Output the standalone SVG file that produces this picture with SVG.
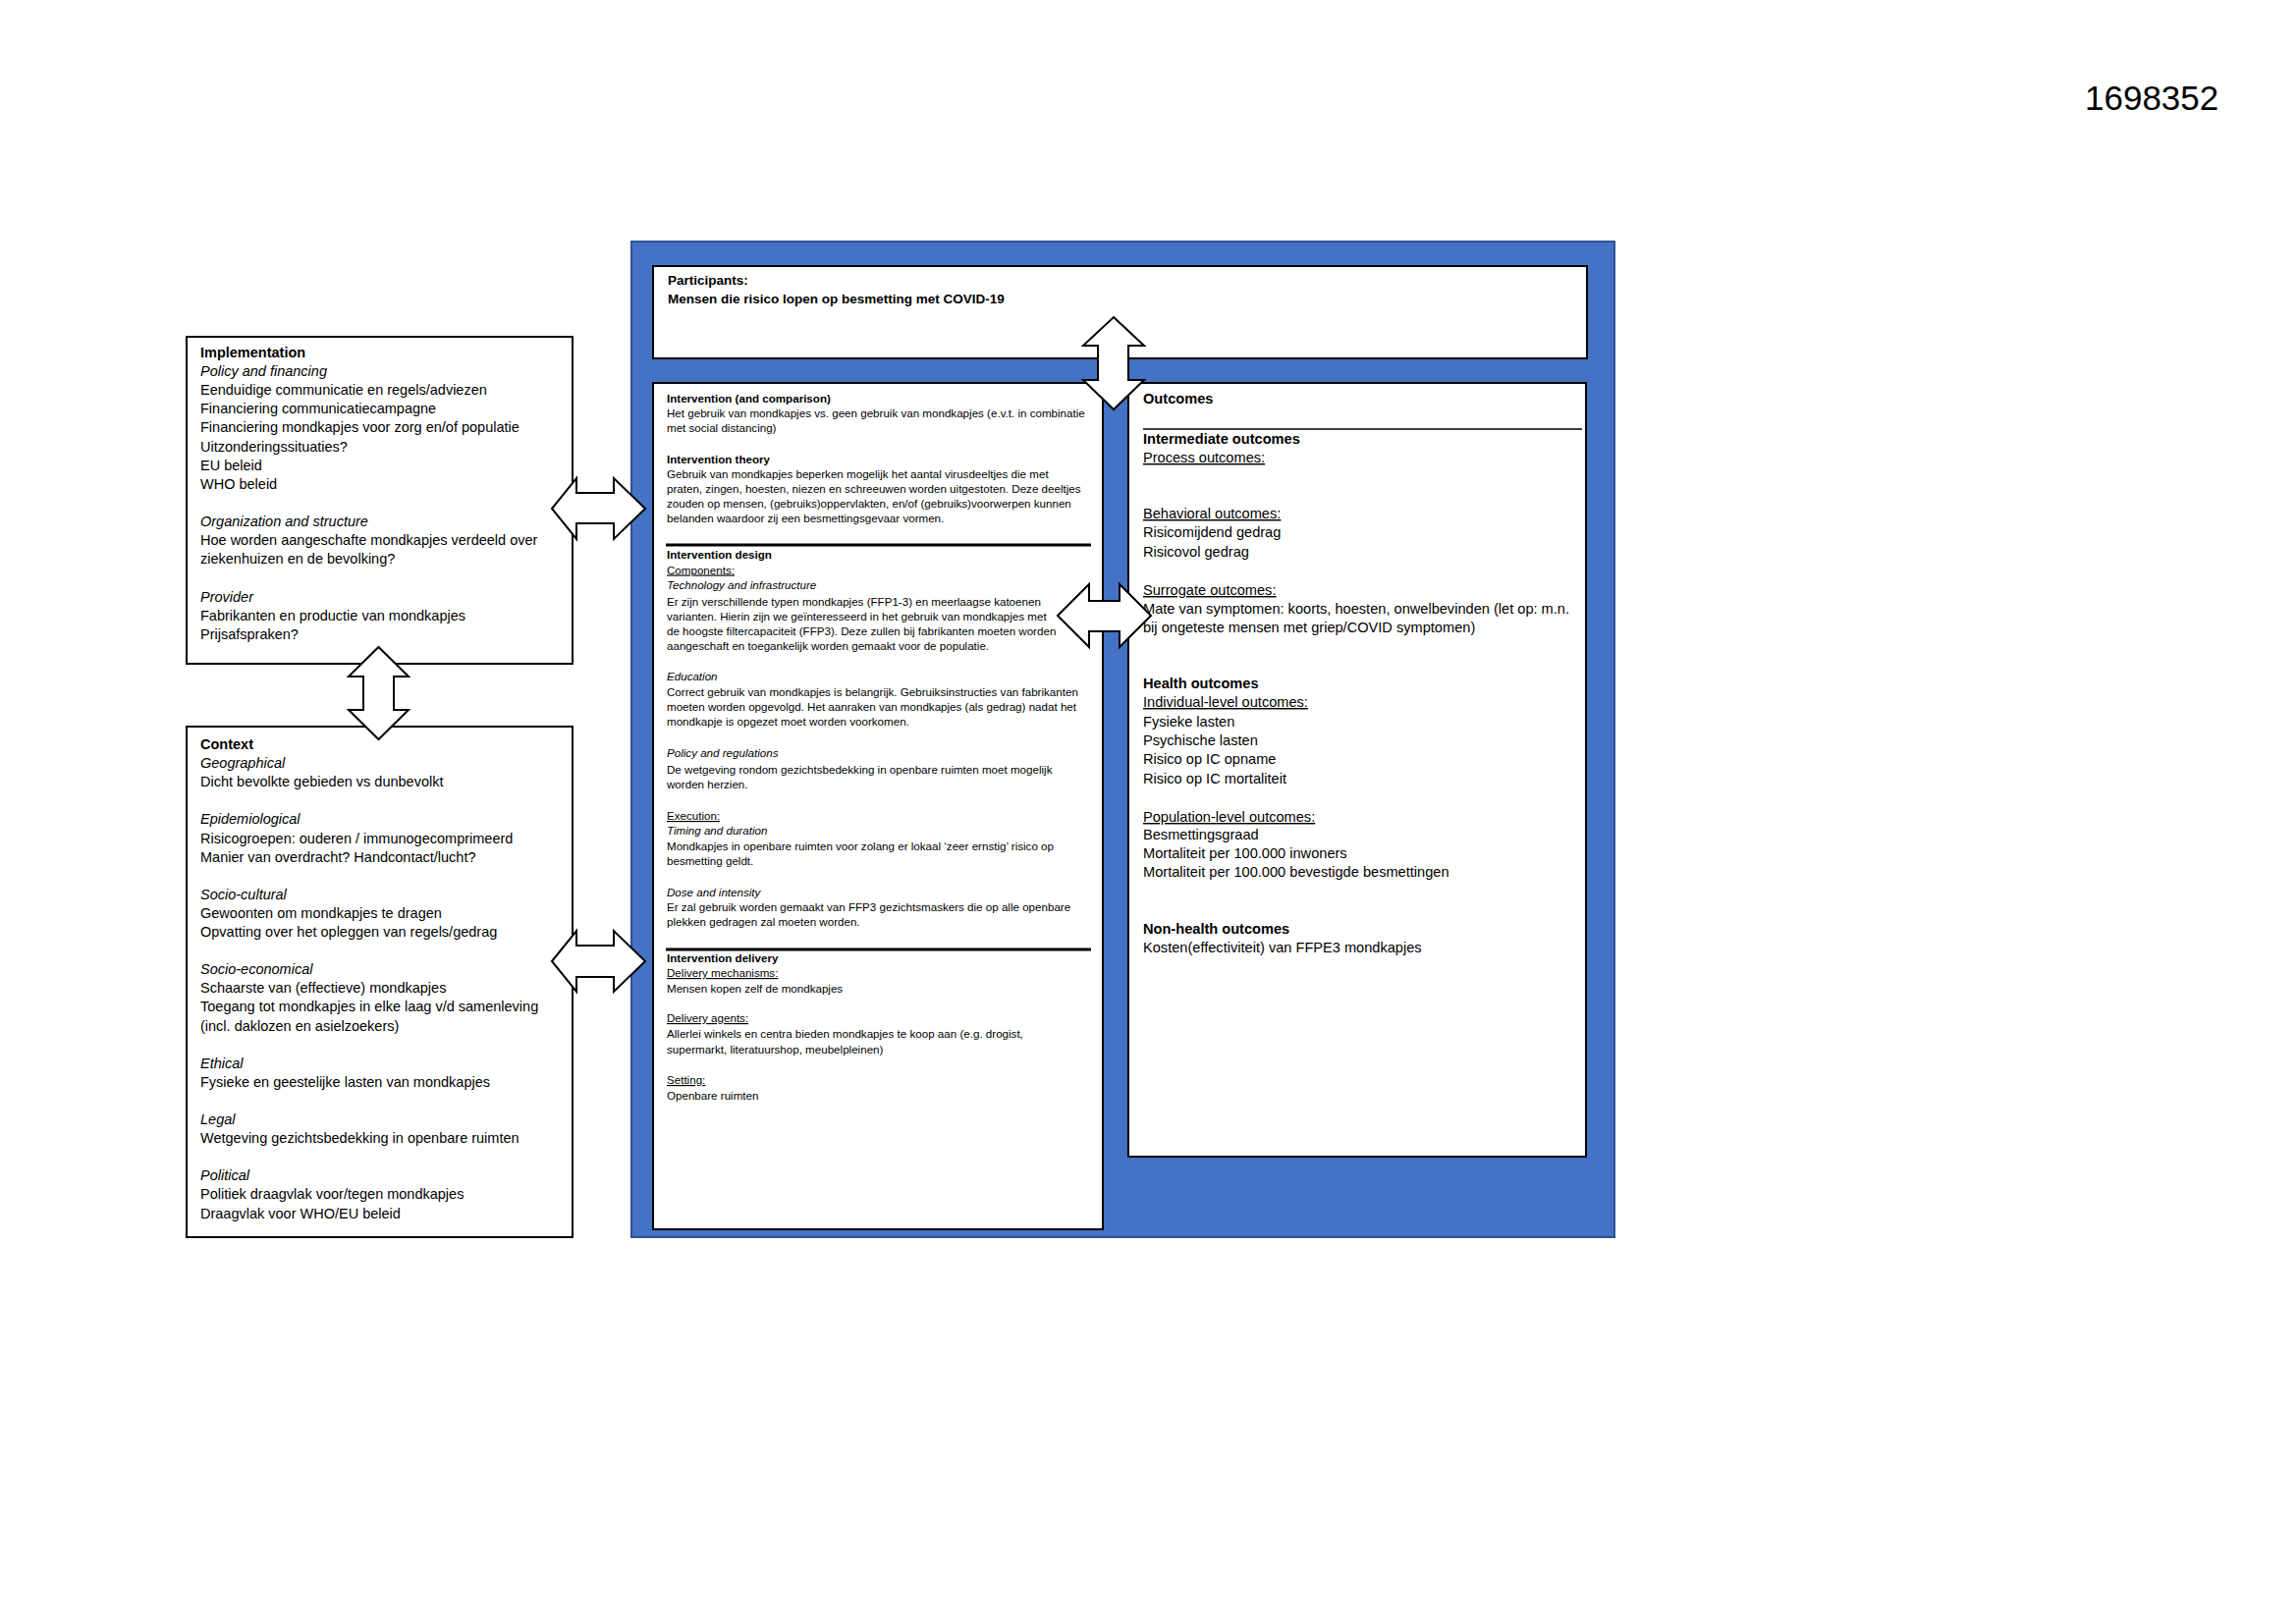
<svg xmlns="http://www.w3.org/2000/svg" width="2338" height="1654" viewBox="0 0 2338 1654">
<style>
text{font-family:"Liberation Sans",Arial,sans-serif;fill:#000}
.t{font-size:14.5px}
.o{font-size:14.6px}
.s{font-size:11.6px}
.p{font-size:13.5px;font-weight:bold}
.b{font-weight:bold}
.i{font-style:italic}
.u{text-decoration:underline}
.box{fill:#fff;stroke:#000;stroke-width:2}
.arrow{fill:#fff;stroke:#000;stroke-width:2;stroke-linejoin:miter}
.rule{stroke:#000;stroke-width:3}
</style>
<rect width="2338" height="1654" fill="#fff"/>
<g id="doc-number"><text x="2123" y="112" style="font-size:35px">1698352</text></g>

<g id="pico-frame"><rect x="643" y="246" width="1001" height="1014" fill="#4472C4" stroke="#2F528F" stroke-width="2"/></g>

<g id="implementation">
<rect class="box" x="190" y="343" width="393" height="333"/>
<g class="t">
<text x="204" y="364" class="b">Implementation</text>
<text x="204" y="383" class="i">Policy and financing</text>
<text x="204" y="402">Eenduidige communicatie en regels/adviezen</text>
<text x="204" y="421">Financiering communicatiecampagne</text>
<text x="204" y="440">Financiering mondkapjes voor zorg en/of populatie</text>
<text x="204" y="459.5">Uitzonderingssituaties?</text>
<text x="204" y="478.6">EU beleid</text>
<text x="204" y="497.7">WHO beleid</text>
<text x="204" y="536" class="i">Organization and structure</text>
<text x="204" y="555">Hoe worden aangeschafte mondkapjes verdeeld over</text>
<text x="204" y="574">ziekenhuizen en de bevolking?</text>
<text x="204" y="612.5" class="i">Provider</text>
<text x="204" y="632">Fabrikanten en productie van mondkapjes</text>
<text x="204" y="651">Prijsafspraken?</text>
</g>
</g>

<g id="context">
<rect class="box" x="190" y="740" width="393" height="520"/>
<g class="t">
<text x="204" y="763" class="b">Context</text>
<text x="204" y="782.1" class="i">Geographical</text>
<text x="204" y="801.2">Dicht bevolkte gebieden vs dunbevolkt</text>
<text x="204" y="839.4" class="i">Epidemiological</text>
<text x="204" y="858.5">Risicogroepen: ouderen / immunogecomprimeerd</text>
<text x="204" y="877.6">Manier van overdracht? Handcontact/lucht?</text>
<text x="204" y="915.8" class="i">Socio-cultural</text>
<text x="204" y="934.9">Gewoonten om mondkapjes te dragen</text>
<text x="204" y="954">Opvatting over het opleggen van regels/gedrag</text>
<text x="204" y="992.2" class="i">Socio-economical</text>
<text x="204" y="1011.3">Schaarste van (effectieve) mondkapjes</text>
<text x="204" y="1030.4">Toegang tot mondkapjes in elke laag v/d samenleving</text>
<text x="204" y="1049.5">(incl. daklozen en asielzoekers)</text>
<text x="204" y="1087.7" class="i">Ethical</text>
<text x="204" y="1106.8">Fysieke en geestelijke lasten van mondkapjes</text>
<text x="204" y="1145" class="i">Legal</text>
<text x="204" y="1164.1">Wetgeving gezichtsbedekking in openbare ruimten</text>
<text x="204" y="1202.3" class="i">Political</text>
<text x="204" y="1221.4">Politiek draagvlak voor/tegen mondkapjes</text>
<text x="204" y="1240.5">Draagvlak voor WHO/EU beleid</text>
</g>
</g>

<g id="participants">
<rect class="box" x="665" y="271" width="951" height="94"/>
<text x="680" y="290" class="p">Participants:</text>
<text x="680" y="309" class="p">Mensen die risico lopen op besmetting met COVID-19</text>
</g>

<g id="intervention">
<rect class="box" x="665" y="390" width="458" height="862"/>
<g class="s">
<text x="679" y="409.5" class="b">Intervention (and comparison)</text>
<text x="679" y="424.5">Het gebruik van mondkapjes vs. geen gebruik van mondkapjes (e.v.t. in combinatie</text>
<text x="679" y="439.5">met social distancing)</text>
<text x="679" y="471.5" class="b">Intervention theory</text>
<text x="679" y="486.5">Gebruik van mondkapjes beperken mogelijk het aantal virusdeeltjes die met</text>
<text x="679" y="501.5">praten, zingen, hoesten, niezen en schreeuwen worden uitgestoten. Deze deeltjes</text>
<text x="679" y="516.5">zouden op mensen, (gebruiks)oppervlakten, en/of (gebruiks)voorwerpen kunnen</text>
<text x="679" y="531.5">belanden waardoor zij een besmettingsgevaar vormen.</text>
<line class="rule" x1="678" y1="555" x2="1111" y2="555"/>
<text x="679" y="568.5" class="b">Intervention design</text>
<text x="679" y="584.5" class="u">Components:</text>
<text x="679" y="599.5" class="i">Technology and infrastructure</text>
<text x="679" y="616.5">Er zijn verschillende typen mondkapjes (FFP1-3) en meerlaagse katoenen</text>
<text x="679" y="631.5">varianten. Hierin zijn we geïnteresseerd in het gebruik van mondkapjes met</text>
<text x="679" y="646.5">de hoogste filtercapaciteit (FFP3). Deze zullen bij fabrikanten moeten worden</text>
<text x="679" y="661.5">aangeschaft en toegankelijk worden gemaakt voor de populatie.</text>
<text x="679" y="692.5" class="i">Education</text>
<text x="679" y="708.5">Correct gebruik van mondkapjes is belangrijk. Gebruiksinstructies van fabrikanten</text>
<text x="679" y="723.5">moeten worden opgevolgd. Het aanraken van mondkapjes (als gedrag) nadat het</text>
<text x="679" y="738.5">mondkapje is opgezet moet worden voorkomen.</text>
<text x="679" y="771" class="i">Policy and regulations</text>
<text x="679" y="787.5">De wetgeving rondom gezichtsbedekking in openbare ruimten moet mogelijk</text>
<text x="679" y="803">worden herzien.</text>
<text x="679" y="835" class="u">Execution:</text>
<text x="679" y="850" class="i">Timing and duration</text>
<text x="679" y="866">Mondkapjes in openbare ruimten voor zolang er lokaal ‘zeer ernstig’ risico op</text>
<text x="679" y="881">besmetting geldt.</text>
<text x="679" y="912.5" class="i">Dose and intensity</text>
<text x="679" y="927.5">Er zal gebruik worden gemaakt van FFP3 gezichtsmaskers die op alle openbare</text>
<text x="679" y="942.5">plekken gedragen zal moeten worden.</text>
<line class="rule" x1="678" y1="967" x2="1111" y2="967"/>
<text x="679" y="980" class="b">Intervention delivery</text>
<text x="679" y="995" class="u">Delivery mechanisms:</text>
<text x="679" y="1011">Mensen kopen zelf de mondkapjes</text>
<text x="679" y="1041" class="u">Delivery agents:</text>
<text x="679" y="1056.5">Allerlei winkels en centra bieden mondkapjes te koop aan (e.g. drogist,</text>
<text x="679" y="1073">supermarkt, literatuurshop, meubelpleinen)</text>
<text x="679" y="1104" class="u">Setting:</text>
<text x="679" y="1120">Openbare ruimten</text>
</g>
</g>

<g id="outcomes">
<rect class="box" x="1149" y="390" width="466" height="788"/>
<g class="o">
<text x="1164" y="411" class="b">Outcomes</text>
<line x1="1164" y1="437" x2="1611" y2="437" stroke="#000" stroke-width="1.5"/>
<text x="1164" y="452" class="b">Intermediate outcomes</text>
<text x="1164" y="471" class="u">Process outcomes:</text>
<text x="1164" y="528" class="u">Behavioral outcomes:</text>
<text x="1164" y="547">Risicomijdend gedrag</text>
<text x="1164" y="566.5">Risicovol gedrag</text>
<text x="1164" y="606" class="u">Surrogate outcomes:</text>
<text x="1164" y="625">Mate van symptomen: koorts, hoesten, onwelbevinden (let op: m.n.</text>
<text x="1164" y="644">bij ongeteste mensen met griep/COVID symptomen)</text>
<text x="1164" y="701" class="b">Health outcomes</text>
<text x="1164" y="720" class="u">Individual-level outcomes:</text>
<text x="1164" y="739.5">Fysieke lasten</text>
<text x="1164" y="759">Psychische lasten</text>
<text x="1164" y="778">Risico op IC opname</text>
<text x="1164" y="797.5">Risico op IC mortaliteit</text>
<text x="1164" y="837" class="u">Population-level outcomes:</text>
<text x="1164" y="855">Besmettingsgraad</text>
<text x="1164" y="874">Mortaliteit per 100.000 inwoners</text>
<text x="1164" y="893">Mortaliteit per 100.000 bevestigde besmettingen</text>
<text x="1164" y="951" class="b">Non-health outcomes</text>
<text x="1164" y="970">Kosten(effectiviteit) van FFPE3 mondkapjes</text>
</g>
</g>

<g id="connectors">
<polygon id="arrow-implementation-pico" class="arrow" points="562,518 587,487 587,502 625,502 625,487 657,518 625,549 625,533 587,533 587,549"/>
<polygon id="arrow-context-pico" class="arrow" points="562,979 587,948 587,963 625,963 625,948 657,979 625,1010 625,995 587,995 587,1010"/>
<polygon id="arrow-implementation-context" class="arrow" points="385.5,659 416,689 401,689 401,723 416,723 385.5,753 355,723 370,723 370,689 355,689"/>
<polygon id="arrow-participants-outcomes" class="arrow" points="1134,323 1165,352 1149,352 1149,387 1165,387 1134,417 1103,387 1118,387 1118,352 1103,352"/>
<polygon id="arrow-intervention-outcomes" class="arrow" points="1077,627 1109,595 1109,612 1140,612 1140,595 1172,627 1140,659 1140,643 1109,643 1109,659"/>
</g>
</svg>
